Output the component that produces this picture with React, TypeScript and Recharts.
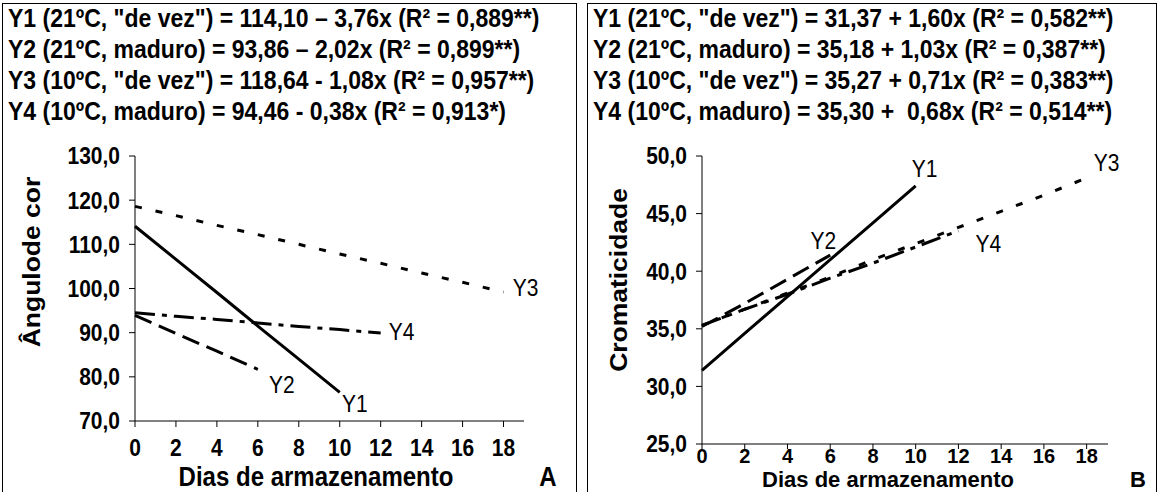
import { Line, LineChart, XAxis, YAxis } from "recharts"

const FONT = "Arial, 'Liberation Sans', sans-serif"
const STRETCH = 1.12 // o original está levemente esticado na vertical

// Painel A - ângulo de cor
const A_DIAS_Y1 = [0, 2, 4, 6, 8, 10]
const A_Y1 = [114.1, 106.6, 99.1, 91.5, 84.0, 76.5]
const A_DIAS_Y2 = [0, 2, 4, 6]
const A_Y2 = [93.9, 89.8, 85.8, 81.7]
const A_DIAS_Y3 = [0, 2, 4, 6, 8, 10, 12, 14, 16, 18]
const A_Y3 = [118.6, 116.5, 114.3, 112.2, 110.0, 107.8, 105.7, 103.5, 101.4, 99.2]
const A_DIAS_Y4 = [0, 2, 4, 6, 8, 10, 12]
const A_Y4 = [94.5, 93.7, 93.0, 92.2, 91.4, 90.7, 89.9]
const A_YTICKS = [70, 80, 90, 100, 110, 120, 130]
const A_EQ = [
  'Y1 (21ºC, "de vez") = 114,10 – 3,76x (R² = 0,889**)',
  "Y2 (21ºC, maduro) = 93,86 – 2,02x (R² = 0,899**)",
  'Y3 (10ºC, "de vez") = 118,64 - 1,08x (R² = 0,957**)',
  "Y4 (10ºC, maduro) = 94,46 - 0,38x (R² = 0,913*)",
]

// Painel B - cromaticidade
const B_DIAS_Y1 = [0, 2, 4, 6, 8, 10]
const B_Y1 = [31.4, 34.6, 37.8, 41.0, 44.2, 47.4]
const B_DIAS_Y2 = [0, 2, 4, 6]
const B_Y2 = [35.2, 37.2, 39.3, 41.4]
const B_DIAS_Y3 = [0, 2, 4, 6, 8, 10, 12, 14, 16, 18]
const B_Y3 = [35.3, 36.7, 38.1, 39.5, 41.0, 42.4, 43.8, 45.2, 46.6, 48.1]
const B_DIAS_Y4 = [0, 2, 4, 6, 8, 10, 12]
const B_Y4 = [35.3, 36.7, 38.0, 39.4, 40.7, 42.1, 43.5]
const B_YTICKS = [25, 30, 35, 40, 45, 50]
const B_EQ = [
  'Y1 (21ºC, "de vez") = 31,37 + 1,60x (R² = 0,582**)',
  "Y2 (21ºC, maduro) = 35,18 + 1,03x (R² = 0,387**)",
  'Y3 (10ºC, "de vez") = 35,27 + 0,71x (R² = 0,383**)',
  "Y4 (10ºC, maduro) = 35,30 +  0,68x (R² = 0,514**)",
]

const X_TICKS = [0, 2, 4, 6, 8, 10, 12, 14, 16, 18]
const NAMES = ["Y1", "Y2", "Y3", "Y4"]
const DASHES = [undefined, "18 8", "7 14", "20 7 5 7"]

const pts = (dias: number[], vals: number[]) => dias.map((d, i) => ({ d, v: vals[i] }))

const fmt = (v: number) => v.toFixed(1).replace(".", ",")

const makeXTick = (k: number, size: number) => (p: any) => (
  <text transform={`translate(${p.x},${p.y}) scale(1,${k})`} dy="0.71em" textAnchor="middle"
    fontFamily={FONT} fontWeight="bold" fontSize={size} fill="#000">
    {p.payload.value}
  </text>
)

const YTick = (p: any) => (
  <text transform={`translate(${p.x},${p.y}) scale(1,${STRETCH})`} dy="0.36em" textAnchor="end"
    fontFamily={FONT} fontWeight="bold" fontSize={21} fill="#000">
    {fmt(p.payload.value)}
  </text>
)

const endLabel = (name: string, n: number, dx: number, dy: number) => (p: any) => {
  if (p.index !== n - 1) return <g key={p.index} />
  return (
    <text key={p.index} transform={`translate(${p.x + dx},${p.y + dy}) scale(1,${STRETCH})`}
      textAnchor="middle" dy="0.36em" fontFamily={FONT} fontSize={21} fill="#000">
      {name}
    </text>
  )
}

type PanelProps = {
  left: number
  width: number
  boxWidth: number
  eq: string[]
  series: { d: number; v: number }[][]
  offsets: number[][]
  yDomain: number[]
  yTicks: number[]
  margin: { top: number; right: number; bottom: number; left: number }
  xTickSize: number
  xTickMargin: number
  xTickFont: number
  xTickStretch: number
  yTitle: string
  yTitlePos: number[]
  xTitlePos: number[]
  xTitleSize: number
  xTitleStretch: number
  letter: string
  letterPos: number[]
}

const txt = { fontFamily: FONT, fontWeight: "bold" as const, color: "#000", whiteSpace: "nowrap" as const }

function Panel(p: PanelProps) {
  return (
    <>
      <div style={{ position: "absolute", left: p.left + 2, top: 3, width: p.boxWidth, height: 500,
        border: "1.5px solid #000", boxSizing: "border-box" }} />
      <div style={{ ...txt, position: "absolute", left: p.left + 8, top: 3, fontSize: 23, lineHeight: "31px", whiteSpace: "pre" }}>
        {p.eq.map((t) => <div key={t} style={{ transform: `scaleY(${STRETCH})` }}>{t}</div>)}
      </div>
      <div style={{ position: "absolute", left: p.left, top: 0 }}>
        <LineChart width={p.width} height={492} margin={p.margin}>
          <XAxis type="number" dataKey="d" domain={[0, 19]} ticks={X_TICKS} allowDuplicatedCategory={false}
            height={30} tickSize={p.xTickSize} tickMargin={p.xTickMargin} stroke="#000"
            tick={makeXTick(p.xTickStretch, p.xTickFont)} />
          <YAxis type="number" domain={p.yDomain} ticks={p.yTicks} width={60} tickSize={6} tickMargin={9}
            stroke="#000" tick={YTick} />
          {p.series.map((s, i) => (
            <Line key={NAMES[i]} data={s} dataKey="v" stroke="#000" strokeWidth={3}
              strokeDasharray={DASHES[i]} dot={false} isAnimationActive={false}
              label={endLabel(NAMES[i], s.length, p.offsets[i][0], p.offsets[i][1])} />
          ))}
        </LineChart>
      </div>
      <div style={{ ...txt, position: "absolute", left: p.yTitlePos[0], top: p.yTitlePos[1], fontSize: 23,
        transform: `translate(-50%, -50%) rotate(-90deg) scaleX(1.15)` }}>{p.yTitle}</div>
      <div style={{ ...txt, position: "absolute", left: p.xTitlePos[0], top: p.xTitlePos[1], fontSize: p.xTitleSize,
        transform: `translate(-50%, -50%) scaleY(${p.xTitleStretch})` }}>Dias de armazenamento</div>
      <div style={{ ...txt, position: "absolute", left: p.letterPos[0], top: p.letterPos[1], fontSize: p.xTitleSize,
        transform: `translate(-50%, -50%) scaleY(${p.xTitleStretch})` }}>{p.letter}</div>
    </>
  )
}

export default function App() {
  return (
    <div style={{ position: "absolute", left: 0, top: 0, width: 1163, height: 492, overflow: "hidden", background: "#fff" }}>
      <Panel left={0} width={580} boxWidth={575} eq={A_EQ}
        series={[pts(A_DIAS_Y1, A_Y1), pts(A_DIAS_Y2, A_Y2), pts(A_DIAS_Y3, A_Y3), pts(A_DIAS_Y4, A_Y4)]}
        offsets={[[15, 11], [24, 15], [22, -5], [21, -2]]}
        yDomain={[70, 130]} yTicks={A_YTICKS}
        margin={{ top: 156, right: 56, bottom: 41, left: 75 }}
        xTickSize={6} xTickMargin={12} xTickFont={21} xTickStretch={STRETCH}
        yTitle="Ângulode cor" yTitlePos={[32, 262]} xTitlePos={[316, 477]} xTitleSize={24} xTitleStretch={STRETCH}
        letter="A" letterPos={[548, 477]} />
      <Panel left={585} width={578} boxWidth={570} eq={B_EQ}
        series={[pts(B_DIAS_Y1, B_Y1), pts(B_DIAS_Y2, B_Y2), pts(B_DIAS_Y3, B_Y3), pts(B_DIAS_Y4, B_Y4)]}
        offsets={[[9, -17], [-7, -15], [20, -15], [30, 13]]}
        yDomain={[25, 50]} yTicks={B_YTICKS}
        margin={{ top: 156, right: 55, bottom: 18, left: 57 }}
        xTickSize={5} xTickMargin={0} xTickFont={20} xTickStretch={1}
        yTitle="Cromaticidade" yTitlePos={[619, 280]} xTitlePos={[888, 479.5]} xTitleSize={22} xTitleStretch={1}
        letter="B" letterPos={[1138, 479.5]} />
    </div>
  )
}
